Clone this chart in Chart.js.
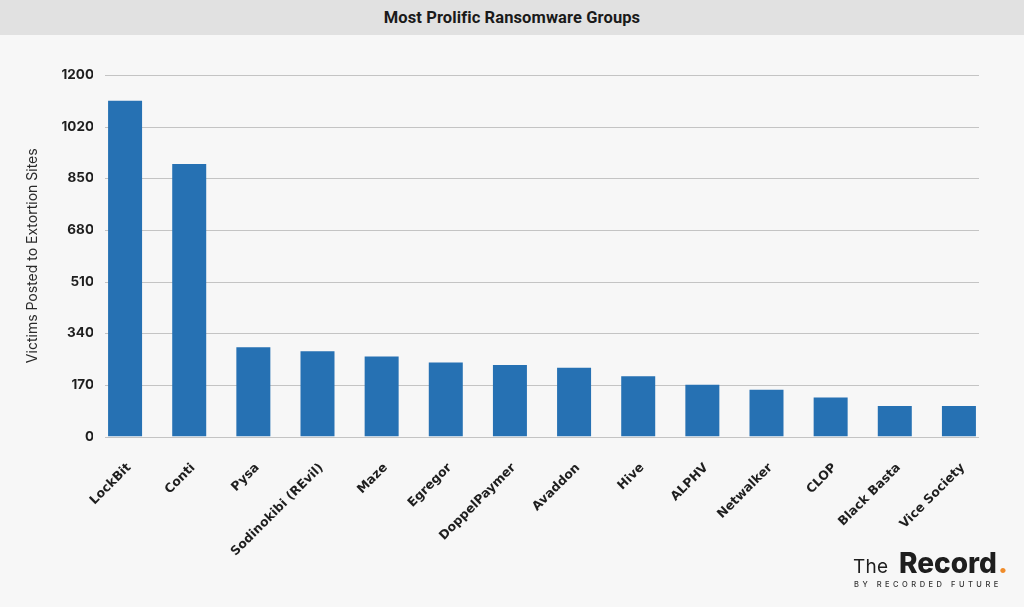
<!DOCTYPE html>
<html>
<head>
<meta charset="utf-8">
<script src="https://cdn.jsdelivr.net/npm/chart.js@4"></script>
<style>
  html, body { margin:0; padding:0; width:1024px; height:607px; background:#f7f7f7; overflow:hidden; }
  #titlebar { position:absolute; left:0; top:0; width:1024px; height:35px; background:#e1e1e1;
    font-family: Roboto, sans-serif; font-weight:700; font-size:16.5px; color:#1a1a1a;
    text-align:center; line-height:35px; letter-spacing:0.1px; }
  #wrap { position:absolute; left:0; top:0; width:1024px; height:607px; }
</style>
</head>
<body>
<div id="titlebar">Most Prolific Ransomware Groups</div>
<div id="wrap"><canvas id="c" width="1024" height="607"></canvas></div>
<script>
const categories = ['LockBit','Conti','Pysa','Sodinokibi (REvil)','Maze','Egregor','DoppelPaymer','Avaddon','Hive','ALPHV','Netwalker','CLOP','Black Basta','Vice Society'];
const victims = [1105, 897, 294, 281, 263, 244, 235, 226, 198, 170, 154, 128, 100, 100];
const tickLabels = ['0','170','340','510','680','850','1020','1200'];
const yAxisTitle = 'Victims Posted to Extortion Sites';

const gridPlugin = {
  id: 'customGrid',
  beforeDatasetsDraw(chart) {
    const y = chart.scales.y, ctx = chart.ctx;
    ctx.save();
    ctx.strokeStyle = '#c4c4c4';
    ctx.lineWidth = 1;
    y.ticks.forEach(t => {
      const py = Math.round(y.getPixelForValue(t.value)) + 0.5;
      ctx.beginPath();
      ctx.moveTo(105, py);
      ctx.lineTo(979, py);
      ctx.stroke();
    });
    ctx.restore();
  }
};

const logoPlugin = {
  id: 'logo',
  afterDraw(chart) {
    const ctx = chart.ctx;
    ctx.save();
    ctx.textBaseline = 'alphabetic';
    ctx.textAlign = 'left';
    ctx.fillStyle = '#1e1e1e';
    ctx.font = '400 19px Inter, sans-serif';
    ctx.letterSpacing = '0.3px';
    ctx.fillText('The', 853, 573);
    ctx.font = '800 28px Inter, sans-serif';
    ctx.letterSpacing = '0px';
    ctx.fillText('Record', 899, 573);
    const w = ctx.measureText('Record').width;
    ctx.fillStyle = '#f08c2a';
    ctx.fillText('.', 899 + w + 1, 573);
    ctx.fillStyle = '#333';
    ctx.font = '500 7.5px Inter, sans-serif';
    ctx.letterSpacing = '3.5px';
    ctx.fillText('BY RECORDED FUTURE', 854, 586.5);
    ctx.restore();
  }
};

new Chart(document.getElementById('c'), {
  type: 'bar',
  data: {
    labels: categories,
    datasets: [{
      data: victims,
      backgroundColor: '#2671b3',
      borderWidth: 0,
      categoryPercentage: 1,
      barPercentage: 0.53
    }]
  },
  options: {
    responsive: false,
    animation: false,
    layout: { padding: { left: 0, right: 33, top: 75, bottom: 0 } },
    plugins: { legend: { display: false }, tooltip: { enabled: false } },
    scales: {
      x: {
        grid: { display: false, drawTicks: false },
        border: { display: false },
        ticks: {
          autoSkip: false, minRotation: 45, maxRotation: 45, padding: 24, labelOffset: 4,
          color: '#1e1e1e', font: { family: '"DejaVu Sans", sans-serif', weight: '700', size: 12.5 }
        },
        afterFit(s) { s.height = 170.5; }
      },
      y: {
        min: 0, max: 1190,
        grid: { display: false, drawTicks: false },
        border: { display: false },
        ticks: {
          stepSize: 170, padding: -1,
          color: '#1e1e1e', font: { family: 'Inter, sans-serif', weight: '700', size: 13.5 },
          callback: (v, i) => tickLabels[i]
        },
        title: {
          display: true, text: yAxisTitle, color: '#2a2a2a',
          font: { family: 'Inter, sans-serif', weight: '400', size: 14 },
          padding: { top: 24, bottom: 0 }
        },
        afterFit(s) { s.width = 93; }
      }
    }
  },
  plugins: [gridPlugin, logoPlugin]
});
</script>
</body>
</html>
